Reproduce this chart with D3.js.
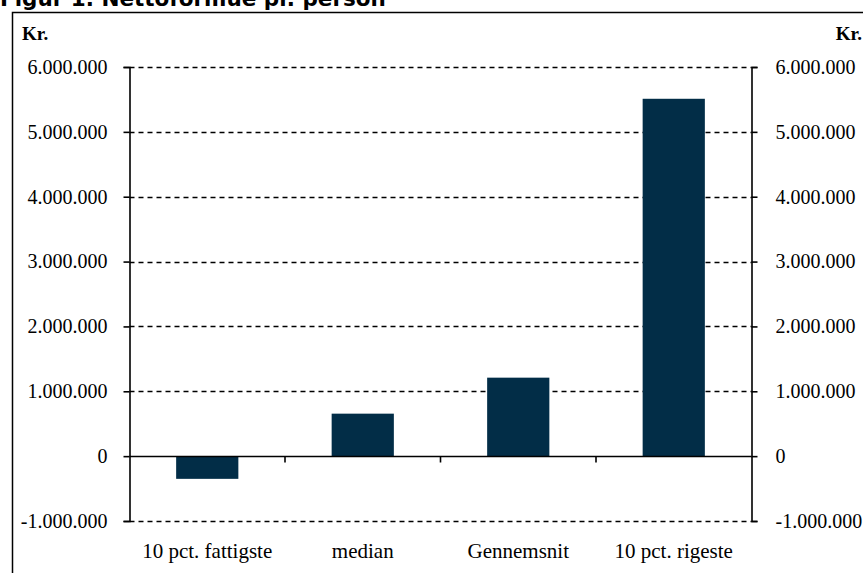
<!DOCTYPE html>
<html>
<head>
<meta charset="utf-8">
<script src="https://cdn.jsdelivr.net/npm/d3@7"></script>
<style>
  body { margin: 0; background: #fff; }
  svg { display: block; }
  .tick text { font-family: "Liberation Serif", serif; font-size: 20px; fill: #000; }
</style>
</head>
<body>
<svg id="chart" width="863" height="573"></svg>
<script>
var categories = ['10 pct. fattigste', 'median', 'Gennemsnit', '10 pct. rigeste'];
var values = [-350000, 655000, 1210000, 5510000];
var yTicks = [-1000000, 0, 1000000, 2000000, 3000000, 4000000, 5000000, 6000000];

function drawChart() {
  var width = 863,
      height = 573,
      plotLeft = 129.5,
      plotRight = 751.5,
      plotTop = 67,
      plotBottom = 521;

  var svg = d3.select('#chart');

  var fmt = function(d) {
    return d3.format(',')(d).replace(/,/g, '.').replace('−', '-');
  };

  var x = d3.scaleBand()
      .domain(categories)
      .range([plotLeft, plotRight])
      .paddingInner(0.6)
      .paddingOuter(0.3);

  var y = d3.scaleLinear()
      .domain([-1000000, 6000000])
      .range([plotBottom, plotTop]);

  // frame
  svg.append('path')
      .attr('d', 'M12.5,' + (height + 5) + 'V12.5H' + (width + 5))
      .attr('fill', 'none')
      .attr('stroke', '#000')
      .attr('stroke-width', 1.5);

  // title (clipped at top)
  svg.append('text')
      .attr('x', 0)
      .attr('y', 6)
      .style('font-family', '"DejaVu Sans", sans-serif')
      .style('font-weight', 'bold')
      .style('font-size', '21.5px')
      .text('Figur 1. Nettoformue pr. person');

  // gridlines
  svg.append('g')
      .selectAll('line')
      .data(yTicks.filter(function(d) { return d !== 0; }))
      .join('line')
      .attr('x1', plotLeft)
      .attr('x2', plotRight)
      .attr('y1', function(d) { return Math.round(y(d)) + 0.5; })
      .attr('y2', function(d) { return Math.round(y(d)) + 0.5; })
      .attr('stroke', '#000')
      .attr('stroke-width', 1.4)
      .attr('stroke-dasharray', '5,4');

  // bars
  svg.append('g')
      .selectAll('rect')
      .data(values)
      .join('rect')
      .attr('x', function(d, i) { return x(categories[i]); })
      .attr('width', x.bandwidth())
      .attr('y', function(d) { return y(Math.max(0, d)); })
      .attr('height', function(d) { return Math.abs(y(d) - y(0)); })
      .attr('fill', '#022d47');

  // left axis
  var yl = svg.append('g')
      .attr('transform', 'translate(' + plotLeft + ',0)')
      .call(d3.axisLeft(y).tickValues(yTicks).tickFormat(fmt).tickSize(6).tickPadding(16));

  // right axis
  var yr = svg.append('g')
      .attr('transform', 'translate(' + plotRight + ',0)')
      .call(d3.axisRight(y).tickValues(yTicks).tickFormat(fmt).tickSize(6).tickPadding(18));

  [yl, yr].forEach(function(g) {
    g.select('.domain').attr('stroke-width', 1.6);
    g.selectAll('.tick line').attr('stroke-width', 1.6);
  });

  // zero line with category separators
  var y0 = Math.round(y(0)) + 0.5;
  svg.append('line')
      .attr('x1', plotLeft)
      .attr('x2', plotRight)
      .attr('y1', y0)
      .attr('y2', y0)
      .attr('stroke', '#000')
      .attr('stroke-width', 1.6);

  var step = x.step();
  svg.append('g')
      .selectAll('line')
      .data(categories.slice(1))
      .join('line')
      .attr('x1', function(d) { return x(d) - step * 0.3; })
      .attr('x2', function(d) { return x(d) - step * 0.3; })
      .attr('y1', y0)
      .attr('y2', y0 + 6)
      .attr('stroke', '#000')
      .attr('stroke-width', 1.6);

  // category labels
  svg.append('g')
      .selectAll('text')
      .data(categories)
      .join('text')
      .attr('x', function(d) { return x(d) + x.bandwidth() / 2; })
      .attr('y', 558)
      .attr('text-anchor', 'middle')
      .style('font-family', '"Liberation Serif", serif')
      .style('font-size', '21px')
      .text(function(d) { return d; });

  // unit labels
  svg.append('text')
      .attr('x', 22)
      .attr('y', 40)
      .style('font-family', '"Liberation Serif", serif')
      .style('font-weight', 'bold')
      .style('font-size', '19px')
      .text('Kr.');

  svg.append('text')
      .attr('x', 862)
      .attr('y', 40)
      .attr('text-anchor', 'end')
      .style('font-family', '"Liberation Serif", serif')
      .style('font-weight', 'bold')
      .style('font-size', '19px')
      .text('Kr.');
}

drawChart();
</script>
</body>
</html>
